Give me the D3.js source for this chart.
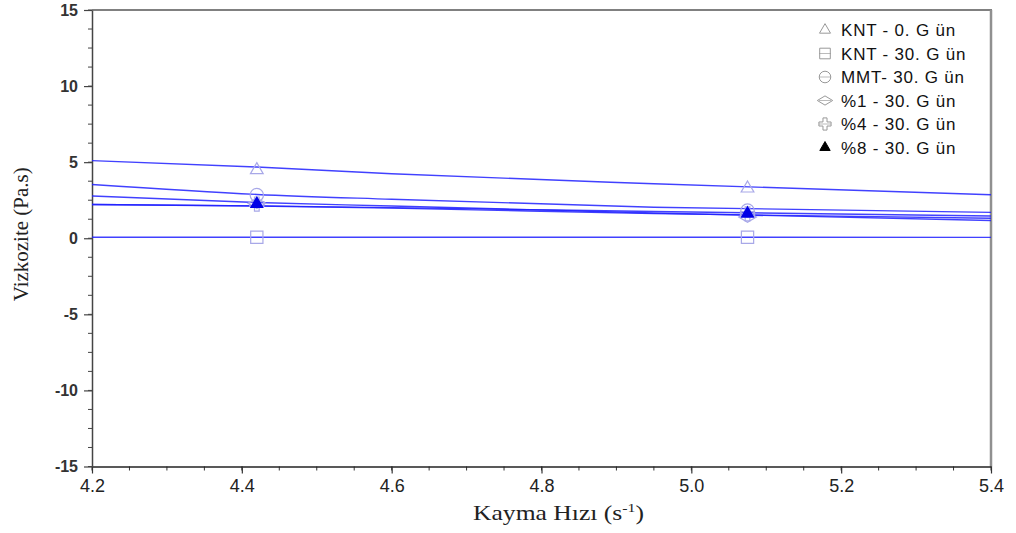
<!DOCTYPE html>
<html>
<head>
<meta charset="utf-8">
<script src="https://cdn.jsdelivr.net/npm/d3@7"></script>
<style>
  body { margin: 0; background: #fff; }
  svg { display: block; }
</style>
</head>
<body>
<svg width="1016" height="533"></svg>
<script>
// fitted curves, read at a few shear rates
const fitX = [4.2, 4.42, 4.6, 4.95, 5.4]
const fitKNT0 = [5.10, 4.68, 4.24, 3.58, 2.86]
const fitKNT30 = [0.07, 0.07, 0.07, 0.07, 0.06]
const fitMMT = [3.53, 2.88, 2.56, 2.04, 1.70]
const fitP1 = [2.78, 2.35, 2.12, 1.66, 1.17]
const fitP4 = [2.22, 2.12, 1.98, 1.62, 1.31]
const fitP8 = [2.22, 2.13, 2.01, 1.76, 1.46]

// measured points
const pointX = [4.42, 5.075]
const ptKNT0 = [4.49, 3.28]
const ptKNT30 = [0.07, 0.07]
const ptMMT = [2.84, 1.82]
const ptP1 = [2.30, 1.40]
const ptP4 = [2.25, 1.60]
const ptP8 = [2.25, 1.62]

const seriesNames = ["KNT - 0. G ün", "KNT - 30. G ün", "MMT- 30. G ün", "%1 - 30. G ün", "%4 - 30. G ün", "%8 - 30. G ün"]
const xTicks = [4.2, 4.4, 4.6, 4.8, 5.0, 5.2, 5.4]
const yTicks = [-15, -10, -5, 0, 5, 10, 15]

// wide, flat diamond like the original
const wideDiamond = {
  draw(ctx, size) {
    const w = Math.sqrt(size) * 0.75, h = w * 0.6
    ctx.moveTo(-w, 0); ctx.lineTo(0, -h); ctx.lineTo(w, 0); ctx.lineTo(0, h); ctx.closePath()
  }
}

const series = [
  { name: seriesNames[0], fit: fitKNT0, pts: ptKNT0, sym: d3.symbolTriangle, size: 70, filled: false },
  { name: seriesNames[1], fit: fitKNT30, pts: ptKNT30, sym: d3.symbolSquare, size: 150, filled: false },
  { name: seriesNames[2], fit: fitMMT, pts: ptMMT, sym: d3.symbolCircle, size: 140, filled: false },
  { name: seriesNames[3], fit: fitP1, pts: ptP1, sym: wideDiamond, size: 140, filled: false },
  { name: seriesNames[4], fit: fitP4, pts: ptP4, sym: d3.symbolCross, size: 110, filled: false },
  { name: seriesNames[5], fit: fitP8, pts: ptP8, sym: d3.symbolTriangle, size: 62, filled: true }
]

const svg = d3.select("svg")
const plotL = 92, plotR = 991, plotT = 10, plotB = 466.5

const x = d3.scaleLinear().domain([4.2, 5.4]).range([plotL, plotR])
const y = d3.scaleLinear().domain([-15, 15]).range([plotB, plotT])

// frame (top / right in grey)
svg.append("line").attr("x1", plotL).attr("x2", plotR + 1).attr("y1", plotT).attr("y2", plotT)
  .attr("stroke", "#808080").attr("stroke-width", 2)
svg.append("line").attr("x1", plotR).attr("x2", plotR).attr("y1", plotT).attr("y2", plotB)
  .attr("stroke", "#909090").attr("stroke-width", 2.5)

// x axis
const xMinor = d3.range(4.2, 5.4001, 0.05)
svg.append("g").attr("transform", `translate(0,${plotB})`)
  .selectAll("line").data(xMinor).join("line")
  .attr("x1", d => x(d)).attr("x2", d => x(d)).attr("y1", 0).attr("y2", 4)
  .attr("stroke", "#333").attr("stroke-width", 1)

const xAxis = svg.append("g").attr("transform", `translate(0,${plotB})`)
  .call(d3.axisBottom(x).tickValues(xTicks).tickFormat(d3.format(".1f")).tickSize(7).tickSizeOuter(0))
xAxis.select(".domain").attr("stroke", "#222").attr("stroke-width", 1.5)
xAxis.selectAll(".tick line").attr("stroke", "#333").attr("stroke-width", 1.2)
xAxis.selectAll("text").attr("font-family", "'Liberation Sans Narrow', 'Arial Narrow', 'Liberation Sans', sans-serif")
  .attr("font-size", 18).attr("fill", "#222").attr("dy", "0.85em")

// y axis
const yMinor = d3.range(-15, 15.001, 1.25)
svg.append("g").attr("transform", `translate(${plotL},0)`)
  .selectAll("line").data(yMinor).join("line")
  .attr("x1", -4).attr("x2", 0).attr("y1", d => y(d)).attr("y2", d => y(d))
  .attr("stroke", "#444").attr("stroke-width", 1)

const yAxis = svg.append("g").attr("transform", `translate(${plotL},0)`)
  .call(d3.axisLeft(y).tickValues(yTicks).tickFormat(d => String(d)).tickSize(8).tickSizeOuter(0))
yAxis.select(".domain").attr("stroke", "#444").attr("stroke-width", 1.5)
yAxis.selectAll(".tick line").attr("stroke", "#444").attr("stroke-width", 1.2)
yAxis.selectAll("text").attr("font-family", "'Liberation Sans', Arial, sans-serif")
  .attr("font-weight", "bold").attr("font-size", 16).attr("fill", "#333").attr("x", -14)

// axis titles
svg.append("text")
  .attr("transform", `translate(28,${(plotT + plotB) / 2 - 4}) rotate(-90)`)
  .attr("text-anchor", "middle")
  .attr("font-family", "'Liberation Serif', 'Times New Roman', serif")
  .attr("font-size", 21).attr("fill", "#222")
  .text("Vizkozite (Pa.s)")

const xt = svg.append("text")
  .attr("transform", `translate(${(plotL + plotR) / 2 + 17},520) scale(1.22,1)`)
  .attr("text-anchor", "middle")
  .attr("font-family", "'Liberation Serif', 'Times New Roman', serif")
  .attr("font-size", 21).attr("fill", "#222")
xt.append("tspan").text("Kayma Hızı (s")
xt.append("tspan").attr("font-size", 13).attr("dy", -8).text("-1")
xt.append("tspan").attr("dy", 8).text(")")

// fit lines
const line = d3.line()
  .x((d, i) => x(fitX[i]))
  .y(d => y(d))
  .curve(d3.curveMonotoneX)

svg.append("g").selectAll("path").data(series).join("path")
  .attr("d", d => line(d.fit))
  .attr("fill", "none")
  .attr("stroke", "#2020ff")
  .attr("stroke-width", 1.4)
  .attr("stroke-opacity", 0.85)

// markers
series.forEach(s => {
  svg.append("g").selectAll("path").data(s.pts).join("path")
    .attr("transform", (d, i) => `translate(${x(pointX[i])},${y(d)})`)
    .attr("d", d3.symbol(s.sym, s.size))
    .attr("fill", s.filled ? "#0000e6" : "none")
    .attr("stroke", s.filled ? "#0000e6" : "#a8a8e8")
    .attr("stroke-width", 1.2)
})

// legend
const legend = svg.append("g").attr("transform", "translate(825,30)")
const rows = legend.selectAll("g").data(series).join("g")
  .attr("transform", (d, i) => `translate(0,${i * 23.5})`)
rows.filter(d => !d.filled && d.sym !== d3.symbolTriangle).append("line")
  .attr("x1", -6).attr("x2", 6).attr("y1", 0).attr("y2", 0)
  .attr("stroke", "#bbb").attr("stroke-width", 1)
rows.append("path")
  .attr("d", d => d3.symbol(d.sym, d.size * 0.75)())
  .attr("fill", d => d.filled ? "#000" : "none")
  .attr("stroke", d => d.filled ? "#000" : "#999")
  .attr("stroke-width", 1)
rows.append("text")
  .attr("x", 16).attr("y", 0).attr("dy", "0.36em")
  .attr("font-family", "'Liberation Sans', Arial, sans-serif")
  .attr("font-size", 17).attr("letter-spacing", 0.8).attr("fill", "#111")
  .text(d => d.name)
</script>
</body>
</html>
